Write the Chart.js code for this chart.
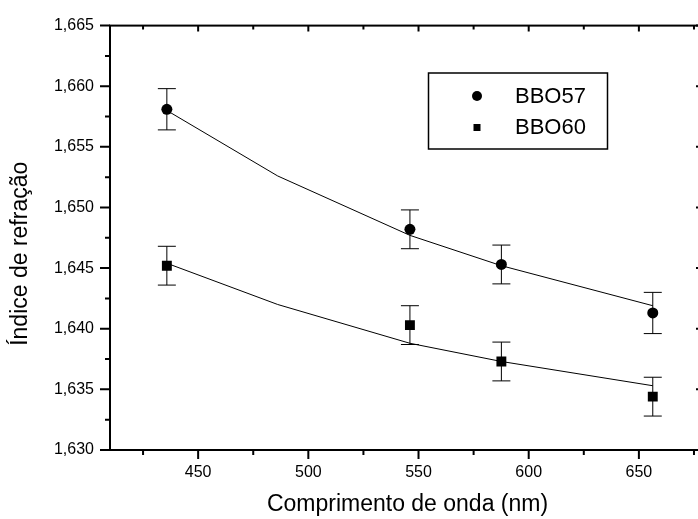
<!DOCTYPE html>
<html>
<head>
<meta charset="utf-8">
<script src="https://cdn.jsdelivr.net/npm/chart.js@4/dist/chart.umd.min.js"></script>
<style>
  html, body { margin: 0; padding: 0; background: #fff; }
  #wrap { width: 698px; height: 519px; overflow: hidden; position: relative; }
  #myChart { position: absolute; left: 0; top: 0; }
</style>
</head>
<body>
<div id="wrap"><canvas id="myChart" width="720" height="519"></canvas></div>
<script>
// measured points (nm, refractive index) with error bars
const wavelengths = [435.8, 546.1, 587.6, 656.3];
const bbo57 = [1.6581, 1.6482, 1.6453, 1.6413];
const bbo57Err = [0.0017, 0.0016, 0.0016, 0.0017];
const bbo60 = [1.6452, 1.6403, 1.6373, 1.6344];
const bbo60Err = [0.0016, 0.0016, 0.0016, 0.0016];

// fitted curves
const fitWavelengths = [435.8, 486.1, 546.1, 587.6, 656.3];
const bbo57Fit = [1.6580, 1.6526, 1.6477, 1.6452, 1.6419];
const bbo60Fit = [1.6454, 1.6420, 1.6388, 1.6373, 1.6353];

const xTicks = [450, 500, 550, 600, 650];
const xMinor = [425, 475, 525, 575, 625, 675];
const yTicks = [1.630, 1.635, 1.640, 1.645, 1.650, 1.655, 1.660, 1.665];
const yMinor = [1.6325, 1.6375, 1.6425, 1.6475, 1.6525, 1.6575, 1.6625];

const FONT = "'Liberation Sans', Arial, sans-serif";

function pts(xs, ys) {
    return xs.map((x, i) => ({x: x, y: ys[i]}));
}

const errors = [bbo57Err, bbo60Err];

const axesPlugin = {
    id: 'axesPlugin',
    afterDatasetsDraw(chart) {
        const ctx = chart.ctx;
        const xs = chart.scales.x, ys = chart.scales.y;
        ctx.save();
        ctx.strokeStyle = '#000';
        ctx.lineWidth = 1;
        // error bars
        [0, 1].forEach(d => {
            const vals = chart.data.datasets[d].data;
            vals.forEach((p, i) => {
                const px = xs.getPixelForValue(p.x);
                const y1 = ys.getPixelForValue(p.y + errors[d][i]);
                const y2 = ys.getPixelForValue(p.y - errors[d][i]);
                ctx.beginPath();
                ctx.moveTo(px, y1); ctx.lineTo(px, y2);
                ctx.moveTo(px - 9, y1); ctx.lineTo(px + 9, y1);
                ctx.moveTo(px - 9, y2); ctx.lineTo(px + 9, y2);
                ctx.stroke();
            });
        });

        // frame
        const a = chart.chartArea;
        ctx.lineWidth = 2;
        ctx.strokeRect(a.left, a.top, a.right - a.left, a.bottom - a.top);

        // ticks
        ctx.beginPath();
        xTicks.forEach(v => {
            const px = xs.getPixelForValue(v);
            ctx.moveTo(px, a.bottom); ctx.lineTo(px, a.bottom + 9);
            ctx.moveTo(px, a.top); ctx.lineTo(px, a.top + 6);
        });
        xMinor.forEach(v => {
            const px = xs.getPixelForValue(v);
            ctx.moveTo(px, a.bottom); ctx.lineTo(px, a.bottom + 5);
            ctx.moveTo(px, a.top); ctx.lineTo(px, a.top + 4);
        });
        yTicks.forEach(v => {
            const py = ys.getPixelForValue(v);
            ctx.moveTo(a.left, py); ctx.lineTo(a.left - 10, py);
            ctx.moveTo(a.right, py); ctx.lineTo(a.right - 9, py);
        });
        yMinor.forEach(v => {
            const py = ys.getPixelForValue(v);
            ctx.moveTo(a.left, py); ctx.lineTo(a.left - 5, py);
            ctx.moveTo(a.right, py); ctx.lineTo(a.right - 5, py);
        });
        ctx.stroke();

        // legend
        ctx.lineWidth = 1.5;
        ctx.strokeRect(428.5, 73, 179, 76);
        ctx.fillStyle = '#000';
        ctx.beginPath();
        ctx.arc(477, 96, 5, 0, Math.PI * 2);
        ctx.fill();
        ctx.fillRect(473.5, 124, 7, 7);
        ctx.font = '22px ' + FONT;
        ctx.textBaseline = 'middle';
        ctx.textAlign = 'left';
        ctx.fillText(chart.data.datasets[0].label, 515, 97);
        ctx.fillText(chart.data.datasets[1].label, 515, 128);
        ctx.restore();
    }
};

const ctx = document.getElementById('myChart');

new Chart(ctx, {
    type: 'scatter',
    data: {
        datasets: [{
            label: 'BBO57',
            data: pts(wavelengths, bbo57),
            pointStyle: 'circle',
            pointRadius: 5.5,
            backgroundColor: '#000',
            borderColor: '#000',
            borderWidth: 0
        }, {
            label: 'BBO60',
            data: pts(wavelengths, bbo60),
            pointStyle: 'rect',
            pointRadius: 7,
            backgroundColor: '#000',
            borderColor: '#000',
            borderWidth: 0
        }, {
            label: 'fit57',
            data: pts(fitWavelengths, bbo57Fit),
            showLine: true,
            pointRadius: 0,
            borderColor: '#000',
            borderWidth: 1,
            tension: 0
        }, {
            label: 'fit60',
            data: pts(fitWavelengths, bbo60Fit),
            showLine: true,
            pointRadius: 0,
            borderColor: '#000',
            borderWidth: 1,
            tension: 0
        }]
    },
    options: {
        responsive: false,
        animation: false,
        layout: { padding: { left: 0, right: 15, top: 19, bottom: 0 } },
        plugins: {
            legend: { display: false },
            tooltip: { enabled: false }
        },
        scales: {
            x: {
                type: 'linear',
                min: 410,
                max: 680,
                afterBuildTicks: s => { s.ticks = xTicks.map(v => ({value: v})); },
                afterFit: s => { s.height = 69; },
                grid: { display: false, drawTicks: false },
                border: { display: false },
                ticks: {
                    padding: 13,
                    color: '#000',
                    font: { family: FONT, size: 16 }
                },
                title: {
                    display: true,
                    text: 'Comprimento de onda (nm)',
                    color: '#000',
                    font: { family: FONT, size: 23 },
                    padding: { top: 0, bottom: 1 }
                }
            },
            y: {
                type: 'linear',
                min: 1.630,
                max: 1.665,
                afterBuildTicks: s => { s.ticks = yTicks.map(v => ({value: v})); },
                afterFit: s => { s.width = 110; },
                grid: { display: false, drawTicks: false },
                border: { display: false },
                ticks: {
                    padding: 16,
                    color: '#000',
                    font: { family: FONT, size: 16 },
                    callback: v => v.toFixed(3).replace('.', ',')
                },
                title: {
                    display: true,
                    text: 'Índice de refração     ',
                    color: '#000',
                    font: { family: FONT, size: 23 },
                    padding: { top: 7, bottom: 0 }
                }
            }
        }
    },
    plugins: [axesPlugin]
});
</script>
</body>
</html>
